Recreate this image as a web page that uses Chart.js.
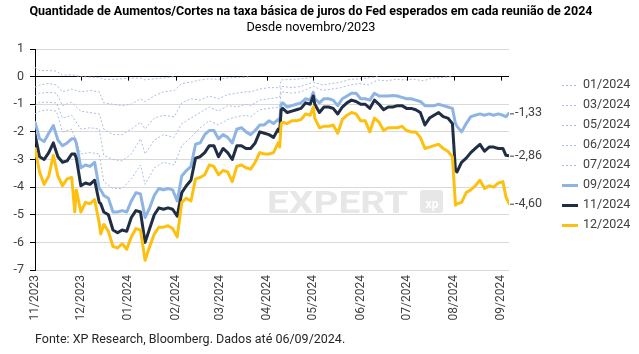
<!DOCTYPE html>
<html lang="pt-BR">
<head>
<meta charset="utf-8">
<title>Aumentos/Cortes esperados pelo Fed</title>
<script src="https://cdn.jsdelivr.net/npm/chart.js@4.4.1/dist/chart.umd.min.js"></script>
<style>
  html, body { margin: 0; padding: 0; background: #fff; }
  #wrap { width: 639px; height: 354px; }
</style>
</head>
<body>
<div id="wrap"><canvas id="grafico" width="639" height="354"></canvas></div>
<script>
/* Quantidade de aumentos/cortes esperados por reunião do Fed (2024)
   x = dias corridos desde 01/11/2023, y = nº de movimentos de 25 bps */

const TITULO    = 'Quantidade de Aumentos/Cortes na taxa básica de juros do Fed esperados em cada reunião de 2024';
const SUBTITULO = 'Desde novembro/2023';
const RODAPE    = 'Fonte: XP Research, Bloomberg. Dados até 06/09/2024.';

// ---- eixo x ----
const marcasDias   = [0, 30, 61, 92, 121, 152, 182, 213, 243, 274, 305];
const rotulosMeses = ['11/2023', '12/2023', '01/2024', '02/2024', '03/2024', '04/2024',
                      '05/2024', '06/2024', '07/2024', '08/2024', '09/2024'];

// ---- séries principais (mesmos dias) ----
const dias = [0,3,6,9,12,15,18,21,24,26, 27,30,33,36,39,42,43,45,48,51,
  54,57,60,63,66,69,72,75,78,81, 84,87,90,93,96,99,102,105,108,111,
  114,117,120,123,126,129,132,135,138,141, 144,147,150,153,156,159,160,161,162,165,
  168,171,174,177,180,182,183,186,189,192, 195,198,201,204,207,210,213,216,219,222,
  225,228,231,234,237,240,243,246,249,252, 255,258,261,264,267,270,273,275,276,279,
  282,285,288,291,294,297,300,303,306,308, 310];

const set2024 = [-1.65,-2.25,-2.35,-2.05,-1.77,-2.3,-2.5,-2.4,-2.25,-2.25,
  -2.4,-3.3,-3.2,-3.25,-3.1,-4.05,-4.1,-4.3,-4.4,-4.9,
  -4.9,-4.85,-4.9,-4.5,-4.2,-4.25,-5.1,-4.75,-4.3,-4.05,
  -4.1,-4.05,-4.1,-4.5,-3.6,-3.4,-3.25,-2.45,-2.4,-2.1,
  -1.95,-1.95,-2.25,-2.1,-2.2,-2.4,-1.9,-1.85,-2.0,-2.1,
  -1.95,-1.75,-1.75,-1.6,-1.7,-1.55,-1.6,-1.0,-0.95,-1.1,
  -1.05,-1.0,-0.95,-0.8,-0.85,-0.57,-0.8,-0.95,-0.8,-0.8,
  -0.85,-1.05,-0.8,-0.7,-0.6,-0.6,-0.8,-0.8,-0.85,-0.6,
  -0.7,-0.7,-0.7,-0.68,-0.7,-0.75,-0.8,-0.8,-0.85,-0.9,
  -1.05,-1.05,-1.05,-1.0,-1.05,-1.1,-1.15,-1.7,-1.8,-2.0,
  -1.7,-1.45,-1.4,-1.35,-1.4,-1.35,-1.4,-1.35,-1.4,-1.45,
  -1.33];

const nov2024 = [-2.1,-2.9,-3.0,-2.75,-2.4,-2.9,-3.1,-3.05,-2.8,-2.8,
  -2.95,-3.95,-3.85,-3.9,-3.75,-4.55,-4.6,-4.9,-5.0,-5.55,
  -5.65,-5.55,-5.6,-5.1,-4.85,-4.9,-6.0,-5.5,-5.0,-4.75,
  -4.8,-4.75,-4.8,-5.05,-4.2,-3.95,-3.75,-2.95,-2.9,-2.75,
  -2.5,-2.5,-2.9,-2.6,-2.75,-3.0,-2.5,-2.5,-2.6,-2.6,
  -2.4,-2.0,-2.05,-2.1,-2.2,-1.9,-2.0,-1.2,-1.15,-1.3,
  -1.25,-1.2,-1.15,-0.95,-1.0,-0.7,-1.0,-1.3,-1.1,-1.1,
  -1.15,-1.35,-1.1,-0.95,-0.85,-0.9,-1.0,-1.0,-1.15,-0.85,
  -1.0,-1.2,-1.1,-1.1,-1.05,-1.05,-1.15,-1.15,-1.2,-1.3,
  -1.75,-1.5,-1.4,-1.3,-1.45,-1.5,-1.7,-3.4,-3.45,-3.1,
  -2.95,-2.75,-2.6,-2.45,-2.7,-2.55,-2.55,-2.6,-2.6,-2.85,
  -2.86];

const dez2024 = [-2.6,-3.45,-3.9,-3.6,-2.85,-3.6,-3.95,-3.7,-3.65,-4.9,
  -4.1,-4.9,-4.55,-4.6,-4.45,-5.3,-5.7,-5.35,-5.6,-6.15,
  -6.2,-6.05,-6.25,-5.8,-5.5,-5.55,-6.65,-6.15,-5.7,-5.45,
  -5.45,-5.4,-5.5,-5.8,-4.55,-4.4,-4.5,-3.7,-3.65,-3.55,
  -3.2,-3.25,-3.55,-3.4,-3.45,-3.8,-3.25,-3.2,-3.3,-3.35,
  -3.1,-2.75,-2.8,-2.8,-2.75,-2.4,-2.55,-1.7,-1.65,-1.7,
  -1.6,-1.6,-1.55,-1.35,-1.4,-1.1,-1.5,-1.85,-1.8,-1.8,
  -1.75,-2.05,-1.55,-1.4,-1.3,-1.35,-1.6,-1.6,-2.0,-1.5,
  -1.65,-1.95,-1.85,-1.85,-1.85,-1.8,-1.95,-2.0,-2.0,-2.2,
  -2.6,-2.55,-2.5,-2.45,-2.6,-2.7,-2.9,-4.65,-4.6,-4.55,
  -4.2,-4.1,-3.95,-3.75,-4.05,-3.95,-4.0,-3.85,-3.8,-4.35,
  -4.6];

// ---- reuniões já realizadas (pontilhadas, até a data da reunião) ----
const diasPont = [0,3,9,14,18,24,30,36,42,45, 51,57,63,69,72,78,84,91,96,102,
  108,114,120,126,132,138,141,147,153,160, 161,168,174,182,188,194,200,206,212,218,
  224,230,236,242,248,254,260,266,273];

const jan2024 = [0.33,0.22,0.22,0.2,0.05,0.07,0.0,-0.02,-0.03,-0.1,
  -0.1,-0.08,-0.05,-0.05,-0.12,-0.08,-0.05,0.0];
const mar2024 = [-0.38,-0.3,-0.25,-0.3,-0.55,-0.45,-0.55,-0.5,-0.55,-0.95,
  -1.0,-1.05,-1.0,-0.8,-0.9,-0.7,-0.55,-0.5,-0.25,-0.2,
  -0.12,-0.08,-0.1,-0.05,-0.03,-0.02,0.0];
const mai2024 = [-0.7,-0.6,-0.57,-0.6,-1.05,-0.93,-1.25,-1.3,-1.35,-1.9,
  -2.1,-2.1,-1.9,-1.65,-1.9,-1.5,-1.4,-1.45,-0.95,-0.8,
  -0.85,-0.7,-0.8,-0.65,-0.6,-0.55,-0.55,-0.45,-0.4,-0.4,
  -0.12,-0.1,-0.08,-0.02];
const jun2024 = [-1.05,-0.93,-0.93,-0.95,-1.5,-1.4,-1.9,-1.85,-1.9,-2.85,
  -3.0,-3.05,-2.8,-2.25,-2.8,-2.3,-2.1,-2.2,-1.7,-1.5,
  -1.3,-1.1,-1.25,-1.05,-1.1,-1.0,-1.05,-0.85,-0.8,-0.75,
  -0.35,-0.4,-0.35,-0.2,-0.3,-0.25,-0.2,-0.1,-0.08,-0.05,
  0.0];
const jul2024 = [-1.35,-1.25,-1.2,-1.25,-2.0,-1.9,-2.8,-2.75,-2.8,-3.8,
  -4.05,-4.05,-3.7,-3.2,-3.9,-3.3,-3.1,-3.2,-2.5,-2.2,
  -1.85,-1.6,-1.75,-1.55,-1.45,-1.4,-1.45,-1.2,-1.15,-1.1,
  -0.55,-0.6,-0.55,-0.35,-0.5,-0.45,-0.4,-0.3,-0.25,-0.3,
  -0.12,-0.15,-0.1,-0.12,-0.1,-0.15,-0.05,-0.03,0.0];

const FONTE = 'Roboto, "Noto Sans", "DejaVu Sans", sans-serif';
const COR_PONT = '#a9bde3';

// junta x e y, descartando o que passou da reunião
function pares(xs, ys) {
  return xs.map((x, i) => ({ x, y: ys[i] })).filter(p => p.y !== undefined && p.y !== null);
}

function pontilhada(label, xs, ys) {
  return { label, data: pares(xs, ys), borderColor: COR_PONT, borderWidth: 1,
           borderDash: [2, 2], order: 5 };
}
function cheia(label, ys, cor, ordem) {
  return { label, data: pares(dias, ys), borderColor: cor, borderWidth: 3,
           borderJoinStyle: 'round', borderCapStyle: 'round', order: ordem, rotuloFinal: true };
}

const datasets = [
  pontilhada('01/2024', diasPont, jan2024),
  pontilhada('03/2024', diasPont, mar2024),
  pontilhada('05/2024', diasPont, mai2024),
  pontilhada('06/2024', diasPont, jun2024),
  pontilhada('07/2024', diasPont, jul2024),
  cheia('09/2024', set2024, '#8db4e2', 3),
  cheia('11/2024', nov2024, '#1f2d45', 2),
  cheia('12/2024', dez2024, '#fdc010', 1),
];

// títulos, marca d'água, rótulos finais, legenda e fonte
const extras = {
  id: 'extras',
  beforeDatasetsDraw(chart) {
    const { ctx } = chart;
    ctx.save();
    ctx.fillStyle = '#e7e7e7';
    ctx.font = 'bold 32px ' + FONTE;
    ctx.textBaseline = 'alphabetic';
    const w = ctx.measureText('EXPERT').width;
    ctx.translate(267, 213);
    ctx.scale(141 / w, 1);
    ctx.fillText('EXPERT', 0, 0);
    ctx.restore();

    ctx.save();
    ctx.fillStyle = '#e7e7e7';
    ctx.beginPath();
    ctx.roundRect(420, 190, 23, 23, 3);
    ctx.fill();
    ctx.fillStyle = '#fff';
    ctx.font = 'bold 12px ' + FONTE;
    ctx.textAlign = 'center';
    ctx.textBaseline = 'middle';
    ctx.fillText('xp', 432, 205);
    ctx.restore();
  },
  afterDraw(chart) {
    const { ctx, scales: { x, y } } = chart;
    const y0 = y.getPixelForValue(0);
    ctx.save();

    // título e subtítulo
    ctx.fillStyle = '#000';
    ctx.textAlign = 'center';
    ctx.textBaseline = 'middle';
    ctx.font = 'bold 12.5px ' + FONTE;
    ctx.fillText(TITULO, 311, 12);
    ctx.font = '12.7px ' + FONTE;
    ctx.fillText(SUBTITULO, 311, 28);
    ctx.textAlign = 'left';

    // marcas dos meses na linha do zero
    ctx.strokeStyle = '#000';
    ctx.lineWidth = 1;
    marcasDias.forEach(d => {
      const px = Math.round(x.getPixelForValue(d)) + 0.5;
      ctx.beginPath(); ctx.moveTo(px, y0); ctx.lineTo(px, y0 + 4); ctx.stroke();
    });

    // valor final de cada série principal
    ctx.font = '12.5px ' + FONTE;
    ctx.fillStyle = '#404040';
    chart.data.datasets.forEach(ds => {
      if (!ds.rotuloFinal) return;
      const ult = ds.data[ds.data.length - 1];
      const px = x.getPixelForValue(ult.x), py = y.getPixelForValue(ult.y);
      ctx.strokeStyle = '#404040';
      ctx.lineWidth = 1;
      ctx.beginPath(); ctx.moveTo(px + 1, py + 0.5); ctx.lineTo(px + 5, py + 0.5); ctx.stroke();
      ctx.fillText(ult.y.toFixed(2).replace('.', ','), px + 6, py);
    });

    // legenda
    chart.data.datasets.forEach((ds, i) => {
      const ly = 85 + i * 20;
      ctx.strokeStyle = ds.borderColor;
      ctx.lineWidth = ds.borderWidth;
      ctx.setLineDash(ds.borderDash || []);
      ctx.beginPath(); ctx.moveTo(562, ly + 0.5); ctx.lineTo(578, ly + 0.5); ctx.stroke();
      ctx.setLineDash([]);
      ctx.fillStyle = '#404040';
      ctx.fillText(ds.label, 583, ly);
    });

    // fonte dos dados
    ctx.fillStyle = '#262626';
    ctx.fillText(RODAPE, 35, 340);
    ctx.restore();
  }
};

Chart.defaults.font.family = FONTE;
Chart.defaults.font.size = 12;
Chart.defaults.color = '#404040';

new Chart(document.getElementById('grafico'), {
  type: 'line',
  data: { datasets },
  plugins: [extras],
  options: {
    responsive: false,
    animation: false,
    devicePixelRatio: 1,
    layout: { padding: { left: 0, right: 130, top: 49, bottom: 32 } },
    elements: { point: { radius: 0 }, line: { tension: 0 } },
    plugins: {
      legend: { display: false },
      tooltip: { enabled: false },
      title: { display: false }
    },
    scales: {
      x: {
        type: 'linear', min: 0, max: 310,
        afterBuildTicks: s => { s.ticks = marcasDias.map(v => ({ value: v })); },
        afterFit: s => { s.height = 52; },
        grid: { display: false, drawTicks: false },
        border: { display: false },
        ticks: {
          autoSkip: false, minRotation: 90, maxRotation: 90, padding: 5,
          font: { size: 12 },
          callback: v => rotulosMeses[marcasDias.indexOf(v)] || ''
        }
      },
      y: {
        min: -7, max: 1,
        afterFit: s => { s.width = 35; },
        ticks: { stepSize: 1, padding: 6, font: { size: 12.5 } },
        grid: {
          color: c => (c.tick && c.tick.value === 0) ? '#000' : '#d9d9d9',
          tickColor: '#000', tickLength: 5
        },
        border: { color: '#000' }
      }
    }
  }
});
</script>
</body>
</html>
